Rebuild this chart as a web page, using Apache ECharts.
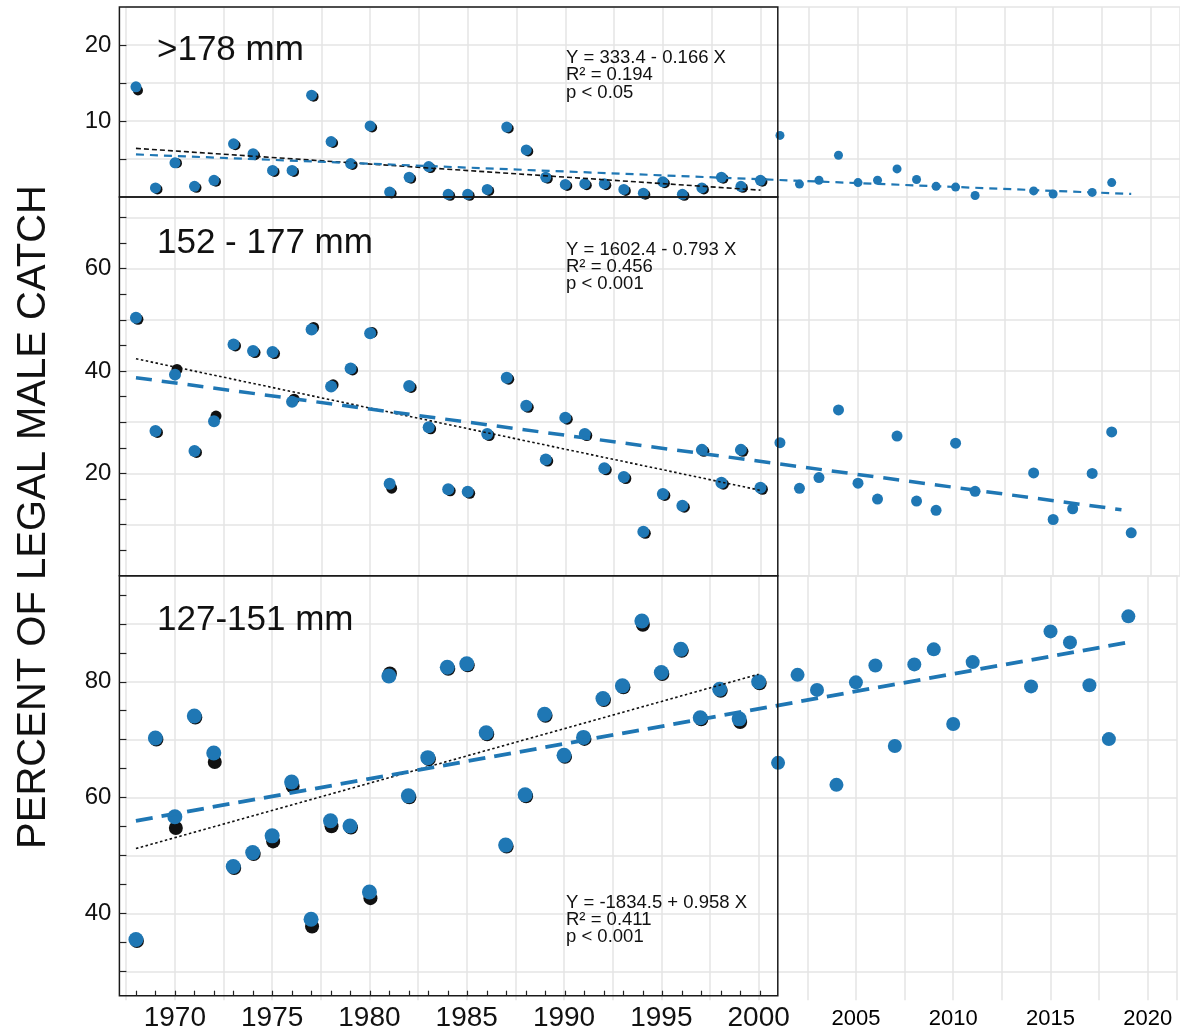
<!DOCTYPE html>
<html><head><meta charset="utf-8">
<script src="https://cdn.jsdelivr.net/npm/echarts@6/dist/echarts.min.js"></script>
<style>html,body{margin:0;padding:0;background:#fff}#c{width:1180px;height:1035px}</style>
</head><body><div id="c"></div>
<script>
// ---------- DATA ----------
const years = [1968,1969,1970,1971,1972,1973,1974,1975,1976,1977,1978,1979,1980,1981,1982,1983,1984,1985,1986,1987,1988,1989,1990,1991,1992,1993,1994,1995,1996,1997,1998,1999,2000,2001,2002,2003,2004,2005,2006,2007,2008,2009,2010,2011,2012,2013,2014,2015,2016,2017,2018,2019];
// blue points (updated series 1968-2019), percent of legal male catch
const pct178 = [14.5,1.2,4.5,1.4,2.2,7.0,5.7,3.5,3.5,13.4,7.3,4.4,9.35,0.65,2.6,4.0,0.35,0.35,1.0,9.2,6.2,2.6,1.65,1.75,1.75,1.0,0.5,2.0,0.35,1.2,2.6,1.4,2.2,8.1,1.7,2.2,5.5,1.9,2.2,3.7,2.3,1.4,1.3,0.2,null,null,0.8,0.4,null,0.6,1.9,null];
const pct152 = [50.4,28.3,39.3,24.4,30.2,45.2,43.9,43.7,34.0,48.1,37.0,40.5,47.4,18.0,37.1,29.0,16.9,16.4,27.7,38.7,33.2,22.7,30.9,27.7,21.0,19.3,8.6,16.0,13.7,24.6,18.2,24.6,17.2,26.0,17.1,19.2,32.4,18.1,15.0,27.3,14.6,12.8,25.9,16.5,null,null,20.1,11.0,13.1,20.0,28.1,8.4];
const pct127 = [35.5,70.3,56.7,74.1,67.7,48.1,50.5,53.4,62.7,39.0,56.0,55.1,43.7,81.0,60.3,66.9,82.5,83.1,71.2,51.8,60.5,74.4,67.3,70.4,77.1,79.3,90.5,81.6,85.6,73.8,78.7,73.6,80.0,66.0,81.2,78.6,62.2,79.9,82.8,68.9,83.0,85.6,72.7,83.4,null,null,79.2,88.7,86.8,79.4,70.1,91.3];
// black points (original series 1968-2000)
const old178 = [14.2,1.2,4.65,1.4,2.2,7.0,5.7,3.5,3.5,13.4,7.3,4.4,9.35,0.65,2.6,4.0,0.35,0.35,1.0,9.2,6.2,2.6,1.65,1.75,1.75,1.0,0.5,2.0,0.35,1.2,2.6,1.4,2.2];
const old152 = [50.4,28.3,40.6,24.4,31.5,45.2,43.9,43.7,34.8,48.8,37.6,40.5,47.8,17.4,37.1,29.0,16.9,16.4,27.7,38.7,33.2,22.7,30.9,27.7,21.0,19.3,8.6,16.0,13.7,24.6,18.2,24.6,17.2];
const old127 = [35.5,70.3,55.0,74.1,66.4,48.1,50.5,52.7,62.2,38.0,55.3,55.1,42.9,81.7,60.3,66.9,82.5,83.1,71.2,51.8,60.5,74.4,67.3,70.4,77.1,79.3,90.1,81.6,85.6,73.8,78.7,73.3,80.0];
// regression lines (end points)
const fitOld178 = [[1968,6.4],[2000,0.9]];
const fitAll178 = [[1968,5.6],[2019,0.4]];
const fitOld152 = [[1968,42.4],[2000,16.7]];
const fitAll152 = [[1968,38.7],[2018.5,12.9]];
const fitOld127 = [[1968,51.2],[2000,81.3]];
const fitAll127 = [[1968,56.0],[2019,86.8]];
// tick labels
const xLabels = [1970,1975,1980,1985,1990,1995,2000,2005,2010,2015,2020];
const yLabels178 = [10,20];
const yLabels152 = [20,40,60];
const yLabels127 = [40,60,80];
const sizeLabels = ['>178 mm','152 - 177 mm','127-151 mm'];
const eqTexts = [
  ['Y = 333.4 - 0.166 X','R\u00B2 = 0.194','p < 0.05'],
  ['Y = 1602.4 - 0.793 X','R\u00B2 = 0.456','p < 0.001'],
  ['Y = -1834.5 + 0.958 X','R\u00B2 = 0.411','p < 0.001']
];
const yTitle = 'PERCENT OF LEGAL MALE CATCH';

// ---------- LAYOUT ----------
const FONT = '"Liberation Sans", Arial, sans-serif';
const BLUE = '#1f77b4';
const GRIDC = '#e4e4e4';
const oldYears = years.filter(y => y <= 2000);
const pairs = (xs, vs) => xs.map((x, i) => [x, vs[i]]).filter(d => d[1] !== null && d[1] !== undefined);

const panels = [
  {top: 7,     height: 190,   min: 0,  max: 25,   fMin: 0,    fH: 190,   ticks: [5,10,15,20], labels: yLabels178, split: [GRIDC],
   blue: pct178, black: old178, fOld: fitOld178, fAll: fitAll178, sOld: 11, sNew: 9, off: [2,1.5],
   oldLine: {type: [5,3], width: 1.6}, allLine: {type: [8,6], width: 2.2}, labY: 50, eqY: [58,75,93]},
  {top: 197,   height: 378.8, min: 0,  max: 74,   fMin: 0,    fH: 378.8, ticks: [5,10,15,20,25,30,35,40,45,50,55,60,65,70], labels: yLabels152, split: [GRIDC,'rgba(0,0,0,0)'],
   blue: pct152, black: old152, fOld: fitOld152, fAll: fitAll152, sOld: 12, sNew: 11, off: [2,1.5],
   oldLine: {type: [2.5,2.5], width: 1.6}, allLine: {type: [16,10], width: 3.5}, labY: 243, eqY: [250,267,284]},
  {top: 575.8, height: 424.5, min: 25, max: 98.3, fMin: 25.8, fH: 419.9, ticks: [30,35,40,45,50,55,60,65,70,75,80,85,90,95], labels: yLabels127, split: ['rgba(0,0,0,0)',GRIDC],
   blue: pct127, black: old127, fOld: fitOld127, fAll: fitAll127, sOld: 15, sNew: 14, off: [1,1.5],
   oldLine: {type: [2.5,2.5], width: 1.6}, allLine: {type: [17,9], width: 3.8}, labY: 620, eqY: [903,920,937]}
];

const grid = [], xAxis = [], yAxis = [], series = [], graphic = [];
panels.forEach((p, i) => {
  grid.push({left: 126.2, right: 0, top: p.top, height: p.height, show: false});
  xAxis.push({
    type: 'value', gridIndex: i, min: 1967.5, max: 2021.5, interval: 2.5,
    axisLine: {show: false}, axisTick: {show: false},
    splitLine: {show: true, lineStyle: {color: GRIDC, width: 1.5}},
    axisLabel: i === 2 ? {
      show: true, interval: 0, margin: 3, hideOverlap: false,
      formatter: v => (xLabels.indexOf(v) >= 0) ? (v <= 2000 ? '{a|' + v + '}' : '{b|' + v + '}') : '',
      rich: {
        a: {fontSize: 28, fontFamily: FONT, color: '#111', lineHeight: 30},
        b: {fontSize: 22, fontFamily: FONT, color: '#000', lineHeight: 22, padding: [9,0,0,0]}
      }
    } : {show: false}
  });
  yAxis.push({
    type: 'value', gridIndex: i, min: p.min, max: p.max, interval: 5,
    axisLine: {show: false}, axisTick: {show: false}, axisLabel: {show: false},
    splitLine: {show: true, lineStyle: {color: p.split, width: 1.5}}
  });
});
// frames of the original (1968-2000) figure
panels.forEach((p, i) => {
  grid.push({left: 119.4, width: 658.4, top: p.top, height: p.fH, show: true, z: 5,
    backgroundColor: 'rgba(0,0,0,0)', borderColor: '#1a1a1a', borderWidth: 1.5});
  xAxis.push({
    type: 'value', gridIndex: 3 + i, min: 1967.15, max: 2000.9, z: 5,
    axisLine: {show: false}, splitLine: {show: false}, axisLabel: {show: false},
    axisTick: i === 2 ? {show: true, inside: true, length: 5, customValues: oldYears, lineStyle: {color: '#222', width: 1.2}} : {show: false}
  });
  yAxis.push({
    type: 'value', gridIndex: 3 + i, min: p.fMin, max: p.max, z: 5,
    axisLine: {show: false}, splitLine: {show: false},
    axisTick: {show: true, inside: true, length: 7, customValues: p.ticks, lineStyle: {color: '#222', width: 1.2}},
    axisLabel: {show: true, customValues: p.labels, fontSize: 24, fontFamily: FONT, color: '#111', margin: 8}
  });
});
panels.forEach((p, i) => {
  series.push({
    type: 'scatter', xAxisIndex: i, yAxisIndex: i, z: 2, silent: true,
    data: pairs(oldYears, p.black), symbolSize: p.sOld - 1, symbolOffset: p.off,
    itemStyle: {color: '#111', opacity: 1}
  });
  series.push({
    type: 'scatter', xAxisIndex: i, yAxisIndex: i, z: 3, silent: true,
    data: pairs(years, p.blue), symbolSize: d => d[0] <= 2000 ? p.sOld : p.sNew,
    itemStyle: {color: BLUE, opacity: 1}
  });
  series.push({
    type: 'line', xAxisIndex: i, yAxisIndex: i, z: 4, silent: true, symbol: 'none',
    data: p.fOld, lineStyle: {color: '#111', width: p.oldLine.width, type: p.oldLine.type}
  });
  series.push({
    type: 'line', xAxisIndex: i, yAxisIndex: i, z: 4, silent: true, symbol: 'none',
    data: p.fAll, lineStyle: {color: BLUE, width: p.allLine.width, type: p.allLine.type}
  });
  graphic.push({type: 'text', x: 157, y: p.labY, z: 10,
    style: {text: sizeLabels[i], font: '35px ' + FONT, fill: '#111', textAlign: 'left', textVerticalAlign: 'middle'}});
  eqTexts[i].forEach((t, k) => graphic.push({type: 'text', x: 566, y: p.eqY[k], z: 10,
    style: {text: t, font: '18.5px ' + FONT, fill: '#111', textAlign: 'left', textVerticalAlign: 'middle'}}));
});
graphic.push({type: 'text', x: 34, y: 517, rotation: Math.PI / 2, z: 10,
  style: {text: yTitle, font: '40px ' + FONT, fill: '#111', textAlign: 'center', textVerticalAlign: 'middle'}});

const chart = echarts.init(document.getElementById('c'), null, {renderer: 'canvas'});
chart.setOption({animation: false, backgroundColor: '#fff', grid, xAxis, yAxis, series, graphic});
</script></body></html>
